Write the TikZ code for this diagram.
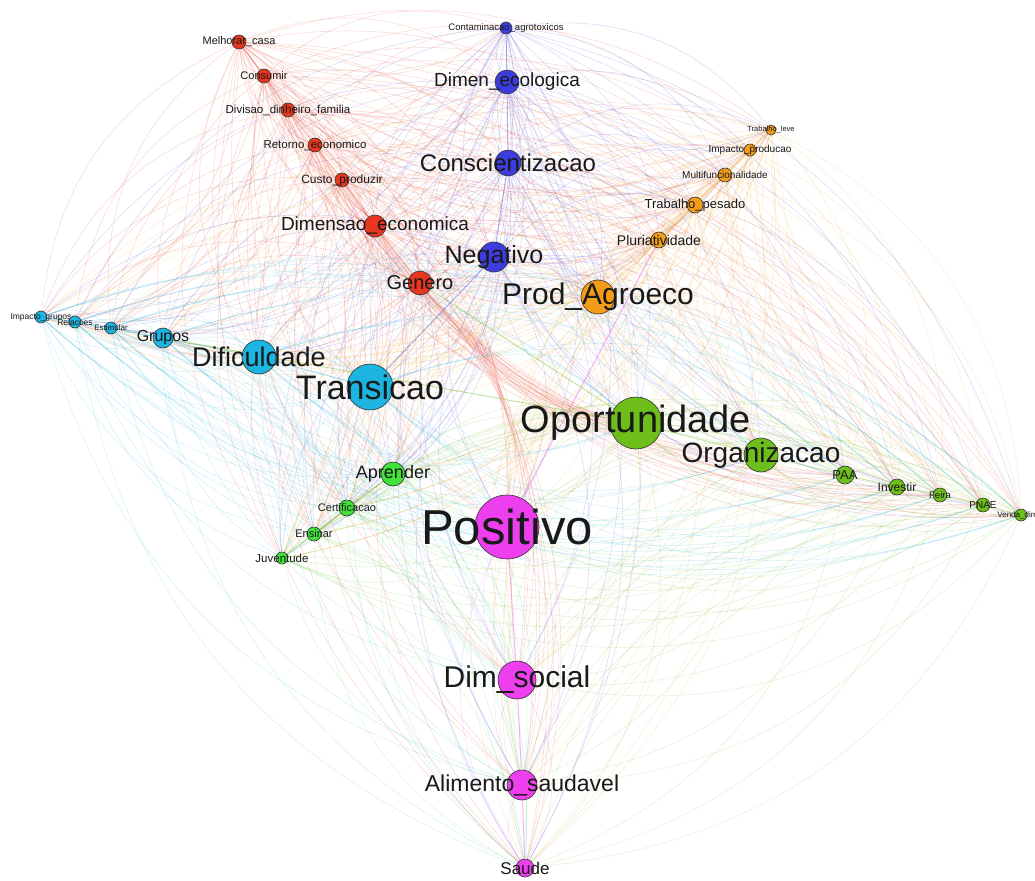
\documentclass[tikz,border=0pt]{standalone}
\usepackage{fontspec}
\setmainfont{Liberation Sans}
\usetikzlibrary{backgrounds}
\pgfdeclarelayer{edgelayer}
\pgfsetlayers{background,edgelayer,main}
\definecolor{cR}{HTML}{E8361E}
\definecolor{cB}{HTML}{3D3DDF}
\definecolor{cO}{HTML}{F39C1A}
\definecolor{cC}{HTML}{1CB4E0}
\definecolor{cG}{HTML}{6DBE1B}
\definecolor{cL}{HTML}{3FE23A}
\definecolor{cM}{HTML}{EE3FEE}
\newcommand\lblfs[1]{\fontsize{#1}{#1}\selectfont}
\newcommand\vtx[7]{%
  \node[vnode, fill=#5, minimum size=#4pt] (#1) at (#2,#3) {};
  \node[vlabel, font=\lblfs{#6}] (#1-l) at (#2,#3) {#7};}
\tikzset{
  vnode/.style={circle, draw=black!80, line width=0.6pt, inner sep=0pt},
  vlabel/.style={inner sep=0pt, text=black!90},
  edge/.style={line width=0.5pt, draw opacity=0.2},
  strong/.style={line width=1pt, draw opacity=0.4}
}
\begin{document}
\begin{tikzpicture}[x=1pt,y=-1pt]
\begin{pgfonlayer}{background}
\fill[white] (0,0) rectangle (1035,880);
\end{pgfonlayer}
\useasboundingbox (0,0) rectangle (1035,880);
% red
\vtx{melhorar}{239}{42}{14}{cR}{11}{Melhorar\_casa}
\vtx{consumir}{264}{76}{14}{cR}{11}{Consumir}
\vtx{divisao}{288}{110}{14}{cR}{11.5}{Divisao\_dinheiro\_familia}
\vtx{retorno}{315}{145}{14}{cR}{11.5}{Retorno\_economico}
\vtx{custo}{342}{180}{14}{cR}{12}{Custo\_produzir}
\vtx{dimeco}{375}{226}{22}{cR}{19}{Dimensao\_economica}
\vtx{genero}{420}{283}{24}{cR}{20}{Genero}
% blue
\vtx{contam}{506}{28}{12}{cB}{9.5}{Contaminacao\_agrotoxicos}
\vtx{dimecol}{507}{82}{24}{cB}{19}{Dimen\_ecologica}
\vtx{consc}{508}{163}{26}{cB}{24}{Conscientizacao}
\vtx{negat}{494}{257}{30}{cB}{25}{Negativo}
% orange
\vtx{trleve}{771}{130}{10}{cO}{7.5}{Trabalho\_leve}
\vtx{impprod}{750}{150}{12}{cO}{10}{Impacto\_producao}
\vtx{multif}{725}{175}{14}{cO}{10}{Multifuncionalidade}
\vtx{trpes}{695}{205}{16}{cO}{13}{Trabalho\_pesado}
\vtx{plur}{659}{240}{16}{cO}{14}{Pluriatividade}
\vtx{prod}{598}{297}{34}{cO}{30}{Prod\_Agroeco}
% cyan
\vtx{impgr}{41}{317}{12}{cC}{8.5}{Impacto\_grupos}
\vtx{relac}{75}{322}{12}{cC}{8.5}{Relacoes}
\vtx{estim}{111}{328}{12}{cC}{8}{Estimular}
\vtx{grupos}{163}{338}{20}{cC}{16}{Grupos}
\vtx{dific}{259}{357}{34}{cC}{27}{Dificuldade}
\vtx{trans}{370}{387}{46}{cC}{34}{Transicao}
% green
\vtx{oport}{636}{423}{52}{cG}{38}{Oportunidade}
\vtx{organ}{761}{455}{34}{cG}{28}{Organizacao}
\vtx{paa}{845}{475}{18}{cG}{13}{PAA}
\vtx{invest}{897}{487}{16}{cG}{12}{Investir}
\vtx{feira}{940}{495}{14}{cG}{9.5}{Feira}
\vtx{pnae}{983}{505}{14}{cG}{10}{PNAE}
\vtx{venda}{1021}{515}{12}{cG}{8}{Venda\_direta}
% light green
\vtx{aprender}{393}{474}{24}{cL}{18}{Aprender}
\vtx{certif}{347}{508}{16}{cL}{11}{Certificacao}
\vtx{ensinar}{314}{534}{14}{cL}{11}{Ensinar}
\vtx{juvent}{282}{558}{12}{cL}{11.5}{Juventude}
% magenta
\vtx{posit}{507}{527}{64}{cM}{49}{Positivo}
\vtx{dimsoc}{517}{680}{38}{cM}{30}{Dim\_social}
\vtx{alim}{522}{785}{30}{cM}{23}{Alimento\_saudavel}
\vtx{saude}{525}{868}{18}{cM}{17}{Saude}
\begin{pgfonlayer}{edgelayer}
\foreach \a/\ca [count=\i] in {melhorar/cR,consumir/cR,divisao/cR,retorno/cR,custo/cR,dimeco/cR,genero/cR,contam/cB,dimecol/cB,consc/cB,negat/cB,trleve/cO,impprod/cO,multif/cO,trpes/cO,plur/cO,prod/cO,impgr/cC,relac/cC,estim/cC,grupos/cC,dific/cC,trans/cC,oport/cG,organ/cG,paa/cG,invest/cG,feira/cG,pnae/cG,venda/cG,aprender/cL,certif/cL,ensinar/cL,juvent/cL,posit/cM,dimsoc/cM,alim/cM,saude/cM}{
  \foreach \b [count=\j] in {melhorar,consumir,divisao,retorno,custo,dimeco,genero,contam,dimecol,consc,negat,trleve,impprod,multif,trpes,plur,prod,impgr,relac,estim,grupos,dific,trans,oport,organ,paa,invest,feira,pnae,venda,aprender,certif,ensinar,juvent,posit,dimsoc,alim,saude}{
    \ifnum\j>\i
      \pgfmathtruncatemacro\bv{mod(\i+\j,2)==0 ? 30 : -30}
      \draw[edge, draw=\ca] (\a) to[bend left=\bv] (\b);
    \fi
  }
}
% stronger chain edges
\foreach \a/\b/\ca in {melhorar/consumir/cR,consumir/divisao/cR,divisao/retorno/cR,retorno/custo/cR,custo/dimeco/cR,dimeco/genero/cR,
  contam/dimecol/cB,dimecol/consc/cB,consc/negat/cB,
  trleve/impprod/cO,impprod/multif/cO,multif/trpes/cO,trpes/plur/cO,plur/prod/cO,
  impgr/relac/cC,relac/estim/cC,estim/grupos/cC,grupos/dific/cC,dific/trans/cC,
  oport/organ/cG,organ/paa/cG,paa/invest/cG,invest/feira/cG,feira/pnae/cG,pnae/venda/cG,
  aprender/certif/cL,certif/ensinar/cL,ensinar/juvent/cL,
  posit/dimsoc/cM,dimsoc/alim/cM,alim/saude/cM,
  plur/posit/cM,ensinar/aprender/cO,genero/oport/cG,grupos/oport/cG,trans/negat/cB}{
  \draw[strong, draw=\ca] (\a) -- (\b);
}
\end{pgfonlayer}
\end{tikzpicture}
\end{document}
